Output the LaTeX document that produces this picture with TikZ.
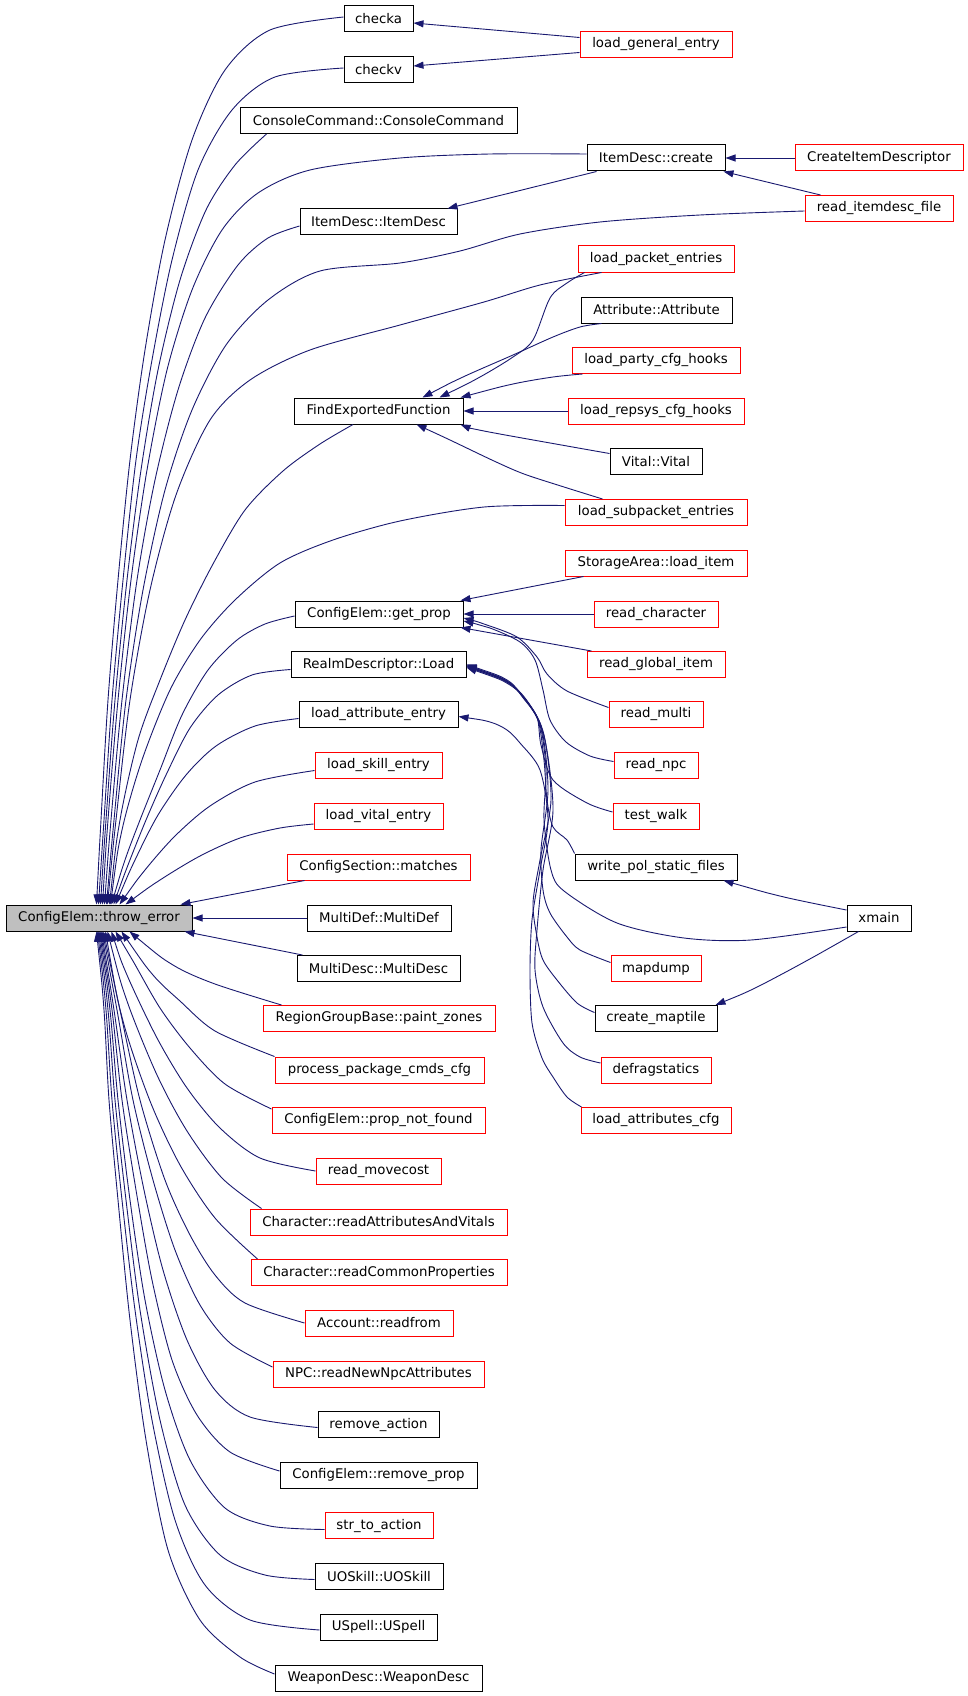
\documentclass[tikz,border=0pt]{standalone}
\usepackage{fontspec}
\newfontfamily\dvs{DejaVu Sans}
\usetikzlibrary{arrows.meta}
\definecolor{eblue}{HTML}{191970}
\definecolor{nred}{HTML}{FF0000}
\definecolor{tgray}{HTML}{BFBFBF}
\begin{document}
\begin{tikzpicture}[x=1pt,y=-1pt,
  nb/.style={draw=black, line width=1pt, minimum height=26pt, inner sep=0pt, font=\dvs\fontsize{13.3}{15}\selectfont, text=black},
  rb/.style={nb, draw=nred},
  e/.style={draw=eblue, line width=0.9pt, arrows={Triangle[length=10pt,width=7pt,fill=eblue]-}},
  sm/.style={smooth, tension=0.5}]
\fill[white] (0,0) rectangle (968,1696);
\useasboundingbox (0,0) rectangle (968,1696);
% ---- nodes column 1
\node[nb, fill=tgray, minimum width=186pt] (te) at (99,918) {ConfigElem::throw\_error};
\node[nb, minimum width=69pt] (checka) at (378.5,19) {checka};
\node[nb, minimum width=69pt] (checkv) at (378.5,70) {checkv};
\node[nb, minimum width=277pt] (cc) at (378.5,120.5) {ConsoleCommand::ConsoleCommand};
\node[nb, minimum width=157pt] (idd) at (378.5,222) {ItemDesc::ItemDesc};
\node[nb, minimum width=169pt] (fef) at (378.5,411) {FindExportedFunction};
\node[nb, minimum width=168pt] (gp) at (379,614) {ConfigElem::get\_prop};
\node[nb, minimum width=175pt] (rdl) at (378.5,664.5) {RealmDescriptor::Load};
\node[nb, minimum width=159pt] (lae) at (378.5,714.5) {load\_attribute\_entry};
\node[rb, minimum width=127pt] (lse) at (378.5,765.5) {load\_skill\_entry};
\node[rb, minimum width=129pt] (lve) at (378.5,816) {load\_vital\_entry};
\node[rb, minimum width=183pt] (csm) at (378.5,867) {ConfigSection::matches};
\node[nb, minimum width=144pt] (mdef) at (379,918) {MultiDef::MultiDef};
\node[nb, minimum width=163pt] (mdesc) at (378.5,968.5) {MultiDesc::MultiDesc};
\node[rb, minimum width=232pt] (rgb) at (379,1018.5) {RegionGroupBase::paint\_zones};
\node[rb, minimum width=209pt] (ppc) at (379.5,1070) {process\_package\_cmds\_cfg};
\node[rb, minimum width=213pt] (pnf) at (378.5,1120.5) {ConfigElem::prop\_not\_found};
\node[rb, minimum width=125pt] (rmc) at (378.5,1171) {read\_movecost};
\node[rb, minimum width=257pt] (crav) at (378.5,1222) {Character::readAttributesAndVitals};
\node[rb, minimum width=256pt] (crcp) at (379,1272.5) {Character::readCommonProperties};
\node[rb, minimum width=148pt] (acc) at (379,1323) {Account::readfrom};
\node[rb, minimum width=211pt] (npc) at (378.5,1374) {NPC::readNewNpcAttributes};
\node[nb, minimum width=121pt] (ra) at (378.5,1424.5) {remove\_action};
\node[nb, minimum width=197pt] (rp) at (378.5,1475) {ConfigElem::remove\_prop};
\node[rb, minimum width=108pt] (sta) at (379,1525.5) {str\_to\_action};
\node[nb, minimum width=128pt] (uos) at (379,1576.5) {UOSkill::UOSkill};
\node[nb, minimum width=117pt] (usp) at (378.5,1627) {USpell::USpell};
\node[nb, minimum width=207pt] (wd) at (378.5,1678) {WeaponDesc::WeaponDesc};
% ---- nodes column 2
\node[rb, minimum width=152pt] (lge) at (656,44.5) {load\_general\_entry};
\node[nb, minimum width=138pt] (idc) at (656,158) {ItemDesc::create};
\node[rb, minimum width=156pt] (lpe) at (656,259) {load\_packet\_entries};
\node[nb, minimum width=151pt] (att) at (656.5,310) {Attribute::Attribute};
\node[rb, minimum width=168pt] (lpc) at (656,360.5) {load\_party\_cfg\_hooks};
\node[rb, minimum width=176pt] (lrc) at (656,411) {load\_repsys\_cfg\_hooks};
\node[nb, minimum width=92pt] (vit) at (656,461.5) {Vital::Vital};
\node[rb, minimum width=182pt] (lspe) at (656,512.5) {load\_subpacket\_entries};
\node[rb, minimum width=182pt] (sal) at (656,563) {StorageArea::load\_item};
\node[rb, minimum width=124pt] (rch) at (656,614) {read\_character};
\node[rb, minimum width=138pt] (rgi) at (656,664.5) {read\_global\_item};
\node[rb, minimum width=94pt] (rmu) at (656,714.5) {read\_multi};
\node[rb, minimum width=84pt] (rnpc) at (656,765.5) {read\_npc};
\node[rb, minimum width=86pt] (tw) at (656,816) {test\_walk};
\node[nb, minimum width=162pt] (wps) at (656,867) {write\_pol\_static\_files};
\node[rb, minimum width=90pt] (md) at (656,968.5) {mapdump};
\node[nb, minimum width=122pt] (cmt) at (656,1018.5) {create\_maptile};
\node[rb, minimum width=110pt] (dfs) at (656,1070) {defragstatics};
\node[rb, minimum width=150pt] (lac) at (656,1120.5) {load\_attributes\_cfg};
% ---- nodes column 3
\node[rb, minimum width=168pt] (cid) at (879,158) {CreateItemDescriptor};
\node[rb, minimum width=148pt] (rif) at (879,208.5) {read\_itemdesc\_file};
\node[nb, minimum width=64pt] (xm) at (879,918) {xmain};
% ---- edges into throw_error (top)
\draw[e] plot[sm] coordinates {([xshift=91pt]te.north west) (101,820) (108,700) (118,580) (130,460) (145,350) (165,240) (192,140) (225,70) (270,30) ([yshift=2pt]checka.west)};
\draw[e] plot[sm] coordinates {([xshift=93pt]te.north west) (104,820) (112,700) (123,580) (136,460) (152,360) (172,260) (198,170) (232,110) (275,77) ([yshift=2pt]checkv.west)};
\draw[e] plot[sm] coordinates {([xshift=95pt]te.north west) (106,820) (115,700) (127,580) (141,470) (158,370) (180,280) (206,210) (235,165) ([xshift=27pt]cc.south west)};
\draw[e] plot[sm] coordinates {([xshift=97pt]te.north west) (108,820) (118,700) (131,580) (147,470) (167,370) (192,290) (222,230) (258,193) (310,170) (400,158) (490,154) ([yshift=4pt]idc.west)};
\draw[e] plot[sm] coordinates {([xshift=99pt]te.north west) (111,820) (122,700) (137,580) (155,480) (178,390) (205,318) (238,265) (268,238) ([yshift=-4pt]idd.west)};
\draw[e] plot[sm] coordinates {([xshift=101pt]te.north west) (114,820) (126,700) (143,590) (165,490) (192,410) (226,345) (268,300) (320,271) (400,263) (460,251) (520,234) (600,222) (700,215) ([yshift=-2.5pt]rif.west)};
\draw[e] plot[sm] coordinates {([xshift=102pt]te.north west) (116,820) (130,700) (150,590) (176,495) (210,420) (250,380) (310,350) (400,325) (484,302) (540,285) ([xshift=24pt]lpe.south west)};
\draw[e] plot[sm] coordinates {([xshift=104pt]te.north west) (120,820) (138,740) (160,680) (185,620) (213,564) (245,510) (283,471) (320,444) ([xshift=-25.5pt]fef.south)};
\draw[e] plot[sm] coordinates {([xshift=105pt]te.north west) (122,830) (142,760) (170,690) (200,640) (235,600) (280,563) (333,540) (400,521) (484,507) ([yshift=7pt]lspe.west)};
\draw[e] plot[sm] coordinates {([xshift=106pt]te.north west) (125,860) (140,820) (160,770) (182,715) (208,670) (237,640) (265,624) ([yshift=-2pt]gp.west)};
\draw[e] plot[sm] coordinates {([xshift=108pt]te.north west) (128,865) (146,820) (166,775) (190,728) (218,695) (252,675) ([yshift=-5pt]rdl.west)};
\draw[e] plot[sm] coordinates {([xshift=110pt]te.north west) (135,860) (158,815) (186,775) (216,746) (255,726) ([yshift=-4pt]lae.west)};
\draw[e] plot[sm] coordinates {([xshift=114pt]te.north west) (145,870) (175,836) (210,806) (255,782) ([yshift=-5pt]lse.west)};
\draw[e] plot[sm] coordinates {([xshift=120pt]te.north west) (160,880) (200,856) (240,838) (280,828) ([yshift=-8pt]lve.west)};
\draw[e] ([xshift=-12pt]te.north east) -- ([xshift=18pt]csm.south west);
% ---- edges into throw_error (right / bottom)
\draw[e] (te.east) -- (mdef.west);
\draw[e] ([xshift=-8pt]te.south east) -- ([xshift=6pt]mdesc.north west);
\draw[e] plot[sm] coordinates {([xshift=124pt]te.south west) (173,965) (215,984) ([xshift=19pt]rgb.north west)};
\draw[e] plot[sm] coordinates {([xshift=116pt]te.south west) (153,975) (180,1001) (215,1031) (ppc.north west)};
\draw[e] plot[sm] coordinates {([xshift=110pt]te.south west) (133,961) (160,1008) (190,1048) (225,1084) ([yshift=-2pt]pnf.north west)};
\draw[e] plot[sm] coordinates {([xshift=106pt]te.south west) (127,975) (157,1038) (187,1088) (220,1128) (260,1158) (rmc.west)};
\draw[e] plot[sm] coordinates {([xshift=102pt]te.south west) (127,1001) (157,1075) (187,1131) (222,1178) ([xshift=12pt]crav.north west)};
\draw[e] plot[sm] coordinates {([xshift=100pt]te.south west) (123,1021) (150,1101) (180,1165) (215,1218) ([xshift=7pt]crcp.north west)};
\draw[e] plot[sm] coordinates {([xshift=98pt]te.south west) (120,1010) (140,1100) (165,1180) (190,1235) (215,1275) (245,1303) (acc.west)};
\draw[e] plot[sm] coordinates {([xshift=97pt]te.south west) (117,1010) (133,1100) (153,1180) (175,1250) (200,1305) (230,1343) ([yshift=7pt]npc.west)};
\draw[e] plot[sm] coordinates {([xshift=96pt]te.south west) (114,1010) (127,1100) (144,1190) (163,1270) (187,1340) (215,1390) (250,1417) ([yshift=-3pt]ra.west)};
\draw[e] plot[sm] coordinates {([xshift=95pt]te.south west) (112,1010) (122,1100) (136,1190) (152,1280) (172,1360) (197,1415) (230,1452) ([yshift=4pt]rp.west)};
\draw[e] plot[sm] coordinates {([xshift=94pt]te.south west) (110,1010) (118,1100) (130,1200) (145,1300) (165,1390) (190,1460) (225,1508) (270,1526) ([yshift=-4pt]sta.west)};
\draw[e] plot[sm] coordinates {([xshift=93pt]te.south west) (108,1010) (115,1100) (126,1200) (140,1310) (160,1420) (185,1505) (220,1555) (265,1575) ([yshift=-3pt]uos.west)};
\draw[e] plot[sm] coordinates {([xshift=92pt]te.south west) (106,1010) (112,1100) (122,1200) (135,1310) (152,1420) (175,1520) (205,1585) (250,1620) ([yshift=-3pt]usp.west)};
\draw[e] plot[sm] coordinates {([xshift=91pt]te.south west) (104,1010) (109,1100) (118,1200) (130,1320) (146,1440) (168,1550) (200,1620) (240,1657) ([yshift=4pt]wd.west)};
% ---- other edges
\draw[e] ([yshift=-4pt]checka.east) -- ([yshift=7pt]lge.west);
\draw[e] ([yshift=4pt]checkv.east) -- ([yshift=-8pt]lge.west);
\draw[e] ([xshift=-10pt]idd.north east) -- ([xshift=10pt]idc.south west);
\draw[e] (idc.east) -- (cid.west);
\draw[e] ([xshift=-2pt]idc.south east) -- ([xshift=16pt]rif.north west);
% FindExportedFunction
\draw[e] plot[sm] coordinates {([xshift=129pt]fef.north west) (463,377) (513,355) (553,337) (580,327) ([xshift=21pt]att.south west)};
\draw[e] plot[sm] coordinates {([xshift=146pt]fef.north west) (480,377) (513,357) (533,340) (550,298) (567,283) ([xshift=7pt]lpe.south west)};
\draw[e] plot[sm] coordinates {([xshift=-3pt]fef.north east) (513,384) (553,377) ([xshift=11pt]lpc.south west)};
\draw[e] (fef.east) -- (lrc.west);
\draw[e] plot[sm] coordinates {([xshift=-3pt]fef.south east) (484,431) (567,446) ([yshift=8pt]vit.west)};
\draw[e] plot[sm] coordinates {([xshift=123pt]fef.south west) (450,440) (494,461) (524,474) (564,487) ([xshift=38pt]lspe.north west)};
% get_prop
\draw[e] ([xshift=-3pt]gp.north east) -- ([xshift=19pt]sal.south west);
\draw[e] (gp.east) -- (rch.west);
\draw[e] ([xshift=-3pt]gp.south east) -- ([xshift=5pt]rgi.north west);
\draw[e] plot[sm] coordinates {([yshift=-4pt]gp.east) (484,624) (517,637) (537,657) (547,674) (567,691) ([yshift=7pt]rmu.west)};
\draw[e] plot[sm] coordinates {([yshift=-7pt]gp.east) (490,628) (520,642) (535,660) (543,690) (550,720) (566,742) (590,756) ([yshift=4pt]rnpc.west)};
% RealmDescriptor::Load
\draw[e] plot[sm] coordinates {(rdl.east) (507,680) (523,697) (537,717) (541,745) (553,780) (587,803) ([yshift=4pt]tw.west)};
\draw[e] plot[sm] coordinates {([yshift=-1pt]rdl.east) (507,681) (524,699) (538,720) (544,760) (547,800) (553,827) (567,840) (wps.north west)};
\draw[e] plot[sm] coordinates {([yshift=-1pt]rdl.east) (508,682) (526,701) (540,725) (546,770) (544,820) (551,870) (564,891) (617,923) (684,938) (751,940) ([yshift=-9pt]xm.west)};
\draw[e] plot[sm] coordinates {([yshift=-2pt]rdl.east) (509,683) (528,703) (542,730) (548,790) (541,850) (543,890) (550,913) (567,937) (580,950) ([yshift=6pt]md.west)};
\draw[e] plot[sm] coordinates {([yshift=-2pt]rdl.east) (510,684) (530,705) (544,735) (551,800) (540,860) (533,903) (537,937) (543,960) (557,980) (577,1003) ([yshift=6pt]cmt.west)};
\draw[e] plot[sm] coordinates {([yshift=-3pt]rdl.east) (510,685) (531,707) (545,740) (553,810) (543,870) (537,930) (535,970) (543,1007) (563,1043) (580,1057) ([yshift=7pt]dfs.west)};
% load_attribute_entry
\draw[e] plot[sm] coordinates {([yshift=-2pt]lae.east) (490,722) (507,730) (520,743) (540,770) (548,820) (540,870) (532,920) (530,970) (532,1023) (542,1058) (553,1077) (567,1097) ([xshift=1pt]lac.north west)};
% xmain
\draw[e] plot[sm] coordinates {([xshift=-14pt]wps.south east) (784,897) ([yshift=8pt]xm.west)};
\draw[e] plot[sm] coordinates {([xshift=-2pt]cmt.north east) (751,990) (784,973) (817,955) ([xshift=12pt]xm.south west)};
\end{tikzpicture}
\end{document}
